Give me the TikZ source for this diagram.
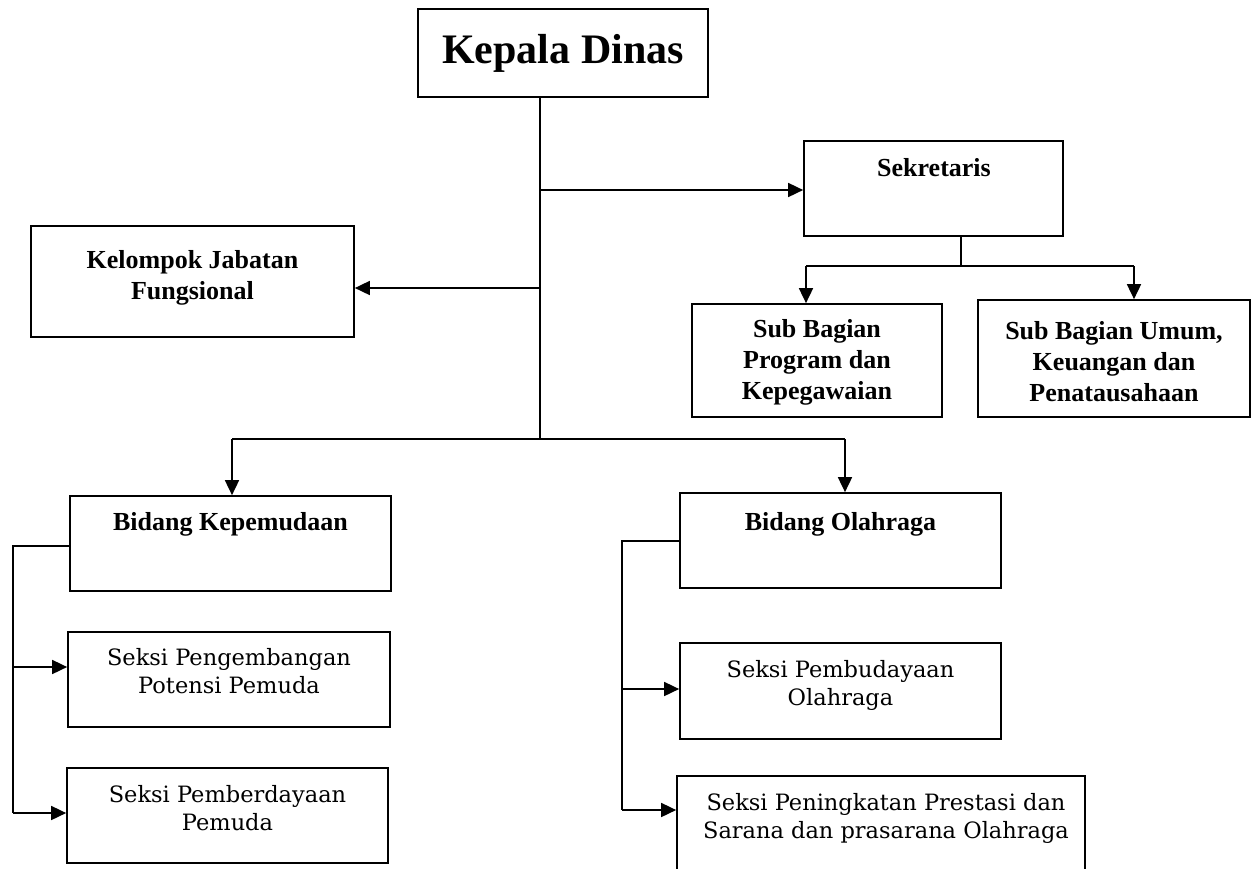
\documentclass[tikz,border=0pt]{standalone}
\usepackage{fontspec}
\usetikzlibrary{arrows.meta}
\newfontfamily\timesfam{Liberation Serif}
\newfontfamily\bookfam{DejaVu Serif}
\newcommand{\boldtxt}{\timesfam\bfseries\fontsize{26}{31}\selectfont}
\newcommand{\bigtxt}{\timesfam\bfseries\fontsize{42}{48}\selectfont}
\newcommand{\seksitxt}{\bookfam\fontsize{22.5}{28}\selectfont}
\tikzset{
  box/.style={draw, line width=1.7pt, inner sep=0pt},
  bt/.style={font=\boldtxt, align=center, inner sep=0pt},
  st/.style={font=\seksitxt, align=center, inner sep=0pt},
  ln/.style={line width=1.7pt},
  arr/.style={line width=1.7pt, -{Triangle[length=15pt,width=14pt]}}
}
\begin{document}
\begin{tikzpicture}[x=1pt,y=-1pt]
\useasboundingbox (0,0) rectangle (1256,868);
% boxes
\node[box, minimum width=290pt, minimum height=88pt, font=\bigtxt] (kd) at (563,53) {Kepala Dinas};
\node[box, minimum width=259pt, minimum height=95pt] (sek) at (933.5,188.5) {};
\node[bt, anchor=base] (sekt) at (934,176) {Sekretaris};
\node[box, minimum width=323pt, minimum height=111pt] (kjf) at (192.5,281.5) {};
\node[bt] (kjft) at (192.5,278) {Kelompok Jabatan\\Fungsional};
\node[box, minimum width=250pt, minimum height=113pt] (sbp) at (817,360.5) {};
\node[bt] (sbpt) at (817,362) {Sub Bagian\\Program dan\\Kepegawaian};
\node[box, minimum width=272pt, minimum height=117pt] (sbu) at (1114,358.5) {};
\node[bt] (sbut) at (1114,362) {Sub Bagian Umum,\\Keuangan dan\\Penatausahaan};
\node[box, minimum width=321pt, minimum height=95pt] (bk) at (230.5,543.5) {};
\node[bt, anchor=base] (bkt) at (230.5,530) {Bidang Kepemudaan};
\node[box, minimum width=321pt, minimum height=95pt] (bo) at (840.5,540.5) {};
\node[bt, anchor=base] (bot) at (840.5,530) {Bidang Olahraga};
\node[box, minimum width=322pt, minimum height=95pt] (sk1) at (229,679.5) {};
\node[st, anchor=base] (sk1t) at (229,693) {Seksi Pengembangan\\Potensi Pemuda};
\node[box, minimum width=321pt, minimum height=95pt] (sk2) at (227.5,815.5) {};
\node[st, anchor=base] (sk2t) at (227.5,830) {Seksi Pemberdayaan\\Pemuda};
\node[box, minimum width=321pt, minimum height=96pt] (so1) at (840.5,691) {};
\node[st, anchor=base] (so1t) at (840.5,705) {Seksi Pembudayaan\\Olahraga};
\node[box, minimum width=408pt, minimum height=110pt] (so2) at (881,831) {};
\node[st, anchor=base] (so2t) at (886,838) {Seksi Peningkatan Prestasi dan\\Sarana dan prasarana Olahraga};
% main trunk
\coordinate (m1) at (540,439);
\coordinate (ms) at (540,190);
\coordinate (mk) at (540,288);
\draw[ln] (kd.south -| m1) -- (m1);
\draw[arr] (ms) -- (ms -| sek.west);
\draw[arr] (mk) -- (mk -| kjf.east);
% sekretaris branch
\coordinate (sj) at (961,266);
\coordinate (sa) at (806,266);
\coordinate (sb) at (1134,266);
\draw[ln] (sek.south -| sj) -- (sj);
\draw[ln] (sa) -- (sb);
\draw[arr] (sa) -- (sa |- sbp.north);
\draw[arr] (sb) -- (sb |- sbu.north);
% bidang branch
\coordinate (ba) at (232,439);
\coordinate (bb) at (845,439);
\draw[ln] (ba) -- (bb);
\draw[arr] (ba) -- (ba |- bk.north);
\draw[arr] (bb) -- (bb |- bo.north);
% kepemudaan seksi
\coordinate (lk) at (13,546);
\coordinate (lk1) at (13,667);
\coordinate (lk2) at (13,813);
\draw[ln] (bk.west |- lk) -- (lk) -- (lk2);
\draw[arr] (lk1) -- (lk1 -| sk1.west);
\draw[arr] (lk2) -- (lk2 -| sk2.west);
% olahraga seksi
\coordinate (lo) at (622,541);
\coordinate (lo1) at (622,689);
\coordinate (lo2) at (622,810);
\draw[ln] (bo.west |- lo) -- (lo) -- (lo2);
\draw[arr] (lo1) -- (lo1 -| so1.west);
\draw[arr] (lo2) -- (lo2 -| so2.west);
\end{tikzpicture}
\end{document}
